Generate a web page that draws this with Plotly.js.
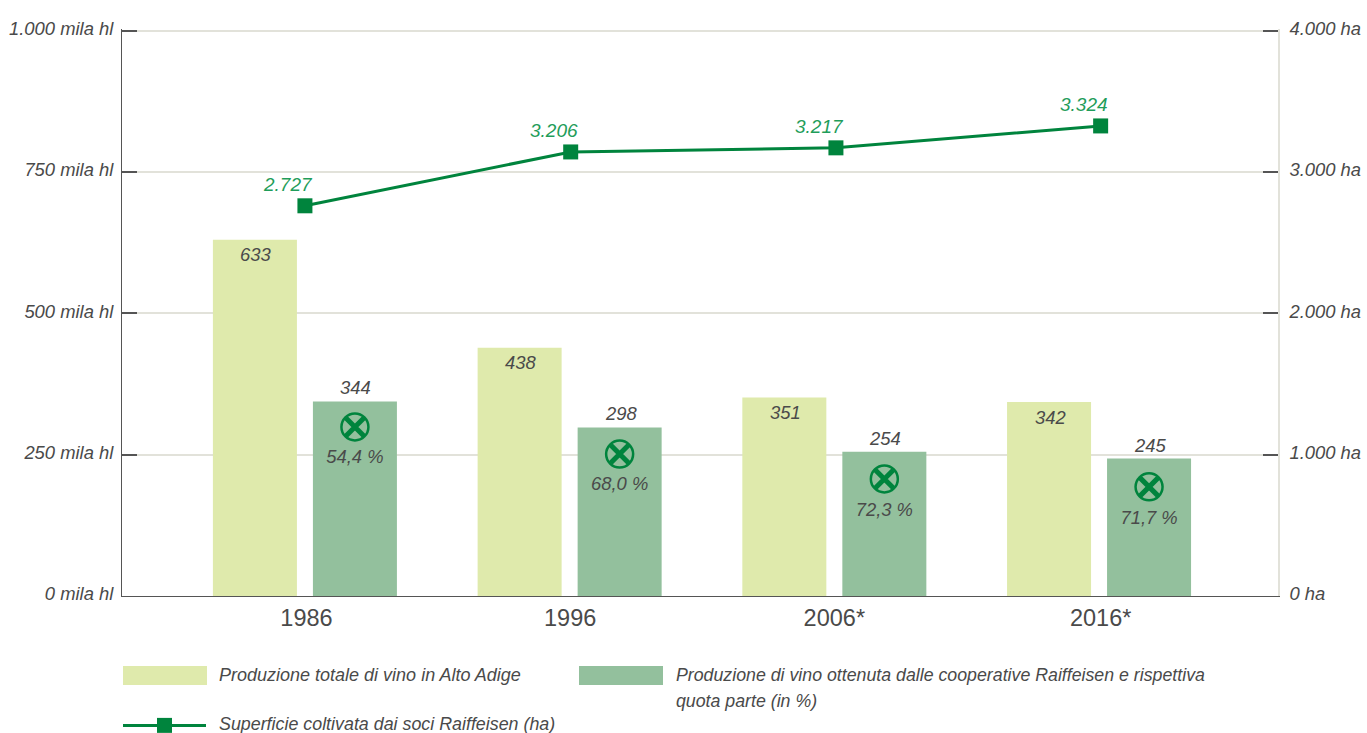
<!DOCTYPE html>
<html>
<head>
<meta charset="utf-8">
<script src="https://cdn.plot.ly/plotly-3.0.1.min.js"></script>
<style>html,body{margin:0;padding:0;background:#fff;overflow:hidden}</style>
</head>
<body>
<div id="chart" style="width:1367px;height:733px"></div>
<script>
const positions = [0, 1, 2, 3];
const tickPositions = [0.006, 1.002, 2, 3.006];
const categories = ['1986', '1996', '2006*', '2016*'];
const totalProduction = [630, 439, 351, 343];
const totalLabels = ['633', '438', '351', '342'];
const raiffeisenProduction = [344, 298, 255, 243];
const raiffeisenLabels = ['344', '298', '254', '245'];
const shareLabels = ['54,4 %', '68,0 %', '72,3 %', '71,7 %'];
const logoHeights = [299, 251, 207, 193];
const shareHeights = [244, 196, 150, 136];
const areaPositions = [0, 1.004, 2.006, 3.006];
const areaPlotted = [2760, 3141, 3170, 3325];
const areaLabels = ['2.727', '3.206', '3.217', '3.324'];
const leftTicks = [0, 250, 500, 750, 1000];
const leftLabels = ['0 mila hl', '250 mila hl', '500 mila hl', '750 mila hl', '1.000 mila hl'];
const rightTicks = [0, 1000, 2000, 3000, 4000];
const rightLabels = ['0 ha', '1.000 ha', '2.000 ha', '3.000 ha', '4.000 ha'];
const legendNames = ['Produzione totale di vino in Alto Adige',
  'Produzione di vino ottenuta dalle cooperative Raiffeisen e rispettiva',
  'quota parte (in %)',
  'Superficie coltivata dai soci Raiffeisen (ha)'];

const FONT = '"Liberation Sans", Arial, sans-serif';
const INK = '#4a4a4a', GREEN = '#00843d', LABELGREEN = '#1f9d5a';
const PALE = '#dfeaac', MID = '#93c09d', GRID = '#e2e2da', AXIS = '#555555';
const W = 1367, H = 733, L = 122, R = 89, T = 28.5, B = 137;
const PW = W - L - R, PH = H - T - B, BASE = H - B;
const SIDE = 50 / 264.7;
const logoX = positions.map(p => p + SIDE);
const leftX = positions.map(p => p - SIDE);
const labelFont = { family: FONT, size: 18.4, style: 'italic', color: INK };

const traces = [
  { type: 'bar', x: positions, y: totalProduction, marker: { color: PALE }, hoverinfo: 'y' },
  { type: 'bar', x: positions, y: raiffeisenProduction, marker: { color: MID }, hoverinfo: 'y' },
  { type: 'scatter', mode: 'markers', x: logoX, y: logoHeights, hoverinfo: 'skip',
    marker: { symbol: 'circle-open', size: 27, color: GREEN, line: { color: GREEN, width: 2.5 } } },
  { type: 'scatter', mode: 'markers', x: logoX, y: logoHeights, hoverinfo: 'skip',
    marker: { symbol: 'x-thin', size: 18, color: GREEN, line: { color: GREEN, width: 5 } } },
  { type: 'scatter', mode: 'text', x: logoX, y: shareHeights, text: shareLabels, textposition: 'middle center',
    textfont: labelFont, hoverinfo: 'skip' },
  { type: 'scatter', mode: 'lines+markers', x: areaPositions, y: areaPlotted, yaxis: 'y2',
    line: { color: GREEN, width: 3 }, marker: { symbol: 'square', size: 15, color: GREEN }, hoverinfo: 'y' }
];

const annotations = [];
areaLabels.forEach((t, i) => annotations.push({
  x: areaPositions[i], y: areaPlotted[i], yref: 'y2', xref: 'x', text: t, showarrow: false,
  xshift: -16.5, yshift: 21, font: { family: FONT, size: 19, style: 'italic', color: LABELGREEN }
}));
totalLabels.forEach((t, i) => annotations.push({
  x: leftX[i], y: totalProduction[i], xref: 'x', yref: 'y', text: t, showarrow: false,
  xshift: 1, yshift: -15, font: labelFont
}));
raiffeisenLabels.forEach((t, i) => annotations.push({
  x: logoX[i], y: raiffeisenProduction[i], xref: 'x', yref: 'y', text: t, showarrow: false,
  xshift: 1, yshift: 13.5, font: labelFont
}));
const legendText = (x, y, t, size) => ({ xref: 'paper', yref: 'paper', x: (x - L) / PW, y: (BASE - y) / PH,
  xanchor: 'left', yanchor: 'middle', align: 'left', showarrow: false, text: t,
  font: { family: FONT, size: size, style: 'italic', color: INK } });
annotations.push(legendText(217, 675, legendNames[0], 18));
annotations.push(legendText(674, 675, legendNames[1], 17.75));
annotations.push(legendText(674, 701, legendNames[2], 17.75));
annotations.push(legendText(217, 724, legendNames[3], 17.85));

const box = (x0, x1, y0, y1, c) => ({ type: 'rect', xref: 'paper', yref: 'paper',
  x0: (x0 - L) / PW, x1: (x1 - L) / PW, y0: (BASE - y1) / PH, y1: (BASE - y0) / PH,
  fillcolor: c, line: { width: 0 } });
const shapes = [
  box(123, 207, 666, 685, PALE),
  box(579, 663, 666, 685, MID),
  box(123, 206, 724, 727, GREEN),
  box(157, 172, 718, 733, GREEN)
];

const layout = {
  width: W, height: H, showlegend: false,
  margin: { l: L, r: R, t: T, b: B, pad: 0 },
  paper_bgcolor: '#fff', plot_bgcolor: '#fff',
  barmode: 'group', bargap: 0.2444, bargroupgap: 0.16,
  xaxis: { range: [-0.691, 3.676], tickvals: tickPositions, ticktext: categories, ticks: '',
    showgrid: false, zeroline: false, showline: true, linecolor: AXIS, linewidth: 1,
    tickfont: { family: FONT, size: 23.5, color: INK }, ticklabelstandoff: 1 },
  yaxis: { range: [0, 1000 * PH / 566], tickvals: leftTicks, ticktext: leftLabels, ticks: 'inside', ticklen: 15,
    tickwidth: 1.5, tickcolor: AXIS, showline: true, linecolor: AXIS, linewidth: 1,
    showgrid: true, gridcolor: GRID, gridwidth: 1.5, zeroline: false, ticklabelstandoff: 4, ticklabelshift: -2,
    tickfont: { family: FONT, size: 18.4, style: 'italic', color: INK } },
  yaxis2: { range: [0, 4000 * PH / 566], overlaying: 'y', side: 'right', tickvals: rightTicks, ticktext: rightLabels,
    ticks: 'inside', ticklen: 15, tickwidth: 1.5, tickcolor: AXIS, showline: true, linecolor: GRID, linewidth: 1.5,
    showgrid: false, zeroline: false, ticklabelstandoff: 6, ticklabelshift: -2,
    tickfont: { family: FONT, size: 18.4, style: 'italic', color: INK } },
  annotations, shapes
};
Plotly.newPlot('chart', traces, layout, { displayModeBar: false });
</script>
</body>
</html>
